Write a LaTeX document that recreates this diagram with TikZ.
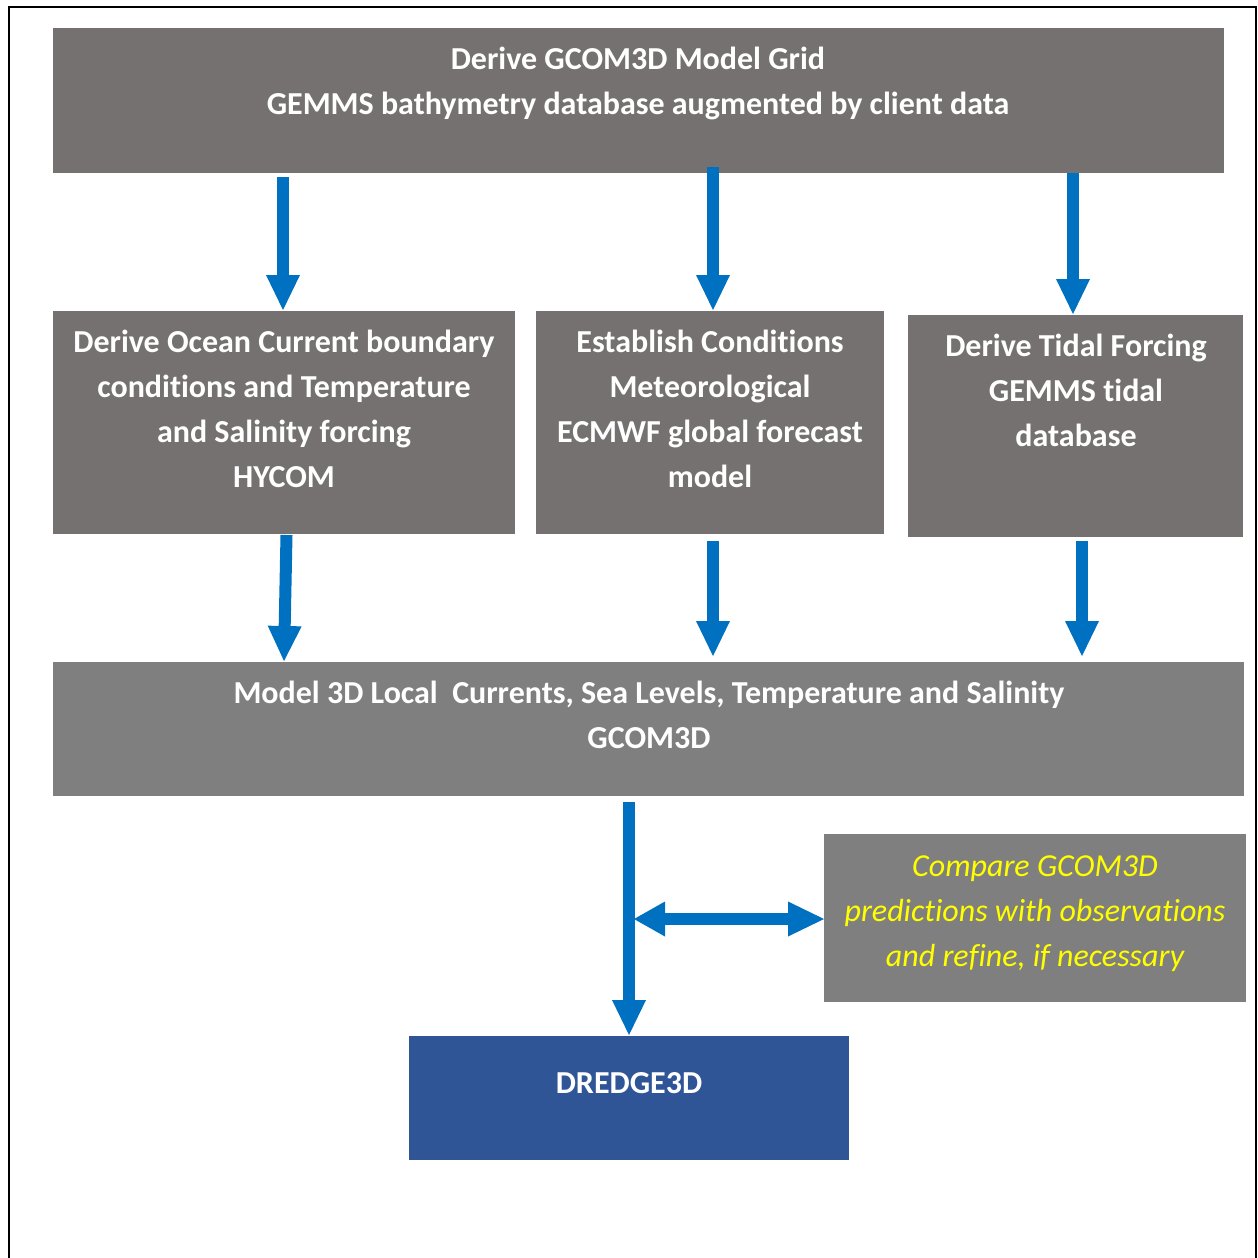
\documentclass[tikz,border=0pt]{standalone}
\usepackage{fontspec}
\setmainfont[Ligatures={NoCommon}]{Carlito}
\usetikzlibrary{arrows.meta}
\definecolor{boxgray}{HTML}{767171}
\definecolor{boxgraylight}{HTML}{7F7F7F}
\definecolor{arrowblue}{HTML}{0070C0}
\definecolor{darkblue}{HTML}{2F5597}
\definecolor{hlyellow}{HTML}{FFFF00}
\begin{document}
\begin{tikzpicture}[x=1pt,y=-1pt,
  box/.style={fill=#1, draw=none, inner sep=0pt, outer sep=0pt},
  btext/.style={text=white, font=\fontsize{32}{45}\selectfont\bfseries, align=center, inner sep=0pt},
  ytext/.style={text=hlyellow, font=\fontsize{32}{45}\selectfont\itshape, align=center, inner sep=0pt},
  flow/.style={draw=arrowblue, line width=12pt, -{Triangle[length=35pt,width=34pt,line width=0pt]}},
  dflow/.style={draw=arrowblue, line width=12pt, {Triangle[length=31pt,width=35pt,line width=0pt]}-{Triangle[length=36pt,width=35pt,line width=0pt]}}
]
\useasboundingbox (0,0) rectangle (1258,1258);
\clip (0,0) rectangle (1258,1258);
\fill[white] (0,0) rectangle (1258,1258);
\draw[line width=2pt, black] (9,7) rectangle (1256,1300);

% boxes
\node[box=boxgray, minimum width=1171pt, minimum height=145pt] (top) at (638.5,100.5) {};
\node[box=boxgray, minimum width=462pt, minimum height=223pt] (left) at (284,422.5) {};
\node[box=boxgray, minimum width=348pt, minimum height=223pt] (mid) at (710,422.5) {};
\node[box=boxgray, minimum width=335pt, minimum height=222pt] (right) at (1075.5,426) {};
\node[box=boxgraylight, minimum width=1191pt, minimum height=134pt] (model) at (648.5,729) {};
\node[box=boxgraylight, minimum width=422pt, minimum height=168pt] (compare) at (1035,918) {};
\node[box=darkblue, minimum width=440pt, minimum height=124pt] (dredge) at (629,1098) {};

% texts
\node[btext] (toptext) at (638,83) {Derive GCOM3D Model Grid\\GEMMS bathymetry database augmented by client data};
\node[btext] (lefttext) at (284,408.5) {Derive Ocean Current boundary\\conditions and Temperature\\and Salinity forcing\\HYCOM};
\node[btext] (midtext) at (710,408.5) {Establish Conditions\\Meteorological\\ECMWF global forecast\\model};
\node[btext] (righttext) at (1076,390.5) {Derive Tidal Forcing\\GEMMS tidal\\database};
\node[btext] (modeltext) at (649,714.5) {Model 3D Local\ \ Currents, Sea Levels, Temperature and Salinity\\GCOM3D};
\node[ytext] (comparetext) at (1035,914) {Compare GCOM3D\\predictions with observations\\and refine, if necessary};
\node[btext] (dredgetext) at (629,1083) {DREDGE3D};

% connectors
\draw[flow] ([xshift=-355.5pt,yshift=-4pt]top.south) -- ([xshift=-1pt,yshift=1pt]left.north);
\draw[flow] ([xshift=74.5pt,yshift=6pt]top.south) -- ([xshift=3pt,yshift=1pt]mid.north);
\draw[flow] ([xshift=434.5pt]top.south) -- ([xshift=-2.5pt,yshift=1pt]right.north);
\draw[flow] ([xshift=2.5pt,yshift=-1pt]left.south) -- ([xshift=-364.5pt,yshift=1pt]model.north);
\draw[flow] ([xshift=3pt,yshift=-7pt]mid.south) -- ([xshift=64.5pt,yshift=6pt]model.north);
\draw[flow] ([xshift=6.5pt,yshift=-4pt]right.south) -- ([xshift=433.5pt,yshift=6pt]model.north);
\draw[flow] ([xshift=-19.5pt,yshift=-6pt]model.south) -- ([yshift=1pt]dredge.north);
\coordinate (junction) at (634,919);
\draw[dflow] (junction) -- (compare.west |- junction);
\end{tikzpicture}
\end{document}
